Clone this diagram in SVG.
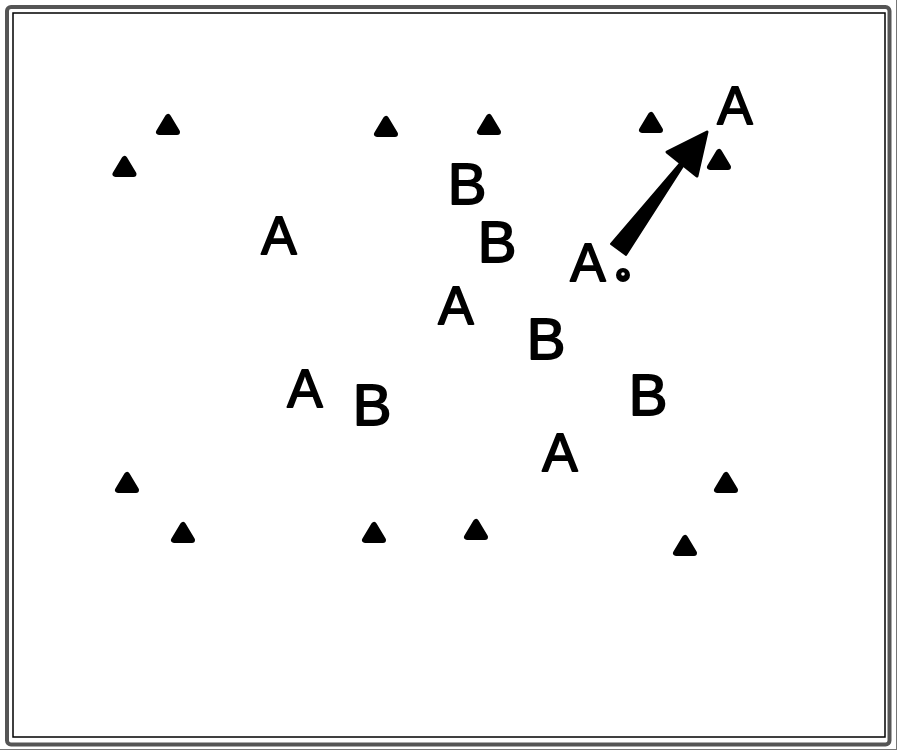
<svg xmlns="http://www.w3.org/2000/svg" width="900" height="752" viewBox="0 0 900 752">
<style>
.tri{fill:#000;stroke:#000;stroke-width:6;stroke-linejoin:round}
.a{font-family:"Liberation Sans",Arial,sans-serif;font-size:53px;text-anchor:middle;fill:#000;stroke:#000;stroke-width:1.8;stroke-linejoin:round}
.b{font-family:"Liberation Sans",Arial,sans-serif;font-size:58px;text-anchor:middle;fill:#000;stroke:#000;stroke-width:1.8;stroke-linejoin:round}
</style>
<defs>
<path id="t" d="M-9,-3 L9,-3 L0,-18 Z"/>
</defs>
<rect width="900" height="752" fill="#fff"/>
<g id="frame" fill="none">
<rect x="7" y="7" width="882.5" height="737.5" rx="4" stroke="#555" stroke-width="4"/>
<rect x="13" y="13" width="872" height="724" stroke="#000" stroke-width="1.5"/>
<line x1="0" y1="749.5" x2="897" y2="749.5" stroke="#777" stroke-width="1"/>
<line x1="896.5" y1="0" x2="896.5" y2="750" stroke="#777" stroke-width="1"/>
</g>
<g id="triangles">
<use href="#t" class="tri" x="168" y="135"/>
<use href="#t" class="tri" x="124.5" y="177"/>
<use href="#t" class="tri" x="386" y="137"/>
<use href="#t" class="tri" x="489" y="135"/>
<use href="#t" class="tri" x="651" y="133"/>
<use href="#t" class="tri" x="719" y="170"/>
<use href="#t" class="tri" x="127" y="493"/>
<use href="#t" class="tri" x="183" y="543"/>
<use href="#t" class="tri" x="374" y="543"/>
<use href="#t" class="tri" x="476" y="540"/>
<use href="#t" class="tri" x="726" y="493"/>
<use href="#t" class="tri" x="685" y="556"/>
</g>
<g id="letters">
<text class="a" x="279" y="254">A</text>
<text class="a" x="456" y="324">A</text>
<text class="a" x="305" y="407">A</text>
<text class="a" x="560" y="471">A</text>
<text class="a" x="588" y="281">A</text>
<text class="a" x="735" y="124">A</text>
<text class="b" x="467" y="204">B</text>
<text class="b" x="497" y="262">B</text>
<text class="b" x="546" y="359">B</text>
<text class="b" x="372" y="425">B</text>
<text class="b" x="648" y="415">B</text>
</g>
<g id="connectors">
<polygon points="611,244 626,255 683.6,165.2 680.4,162.8" fill="#000" stroke="#000" stroke-width="2" stroke-linejoin="round"/>
<polygon points="707,132 667,152 697,176" fill="#000" stroke="#000" stroke-width="3" stroke-linejoin="round"/>
</g>
<g id="dot">
<circle cx="623" cy="275" r="7" fill="#000"/>
<circle cx="623" cy="274" r="1.8" fill="#fff"/>
</g>
</svg>
